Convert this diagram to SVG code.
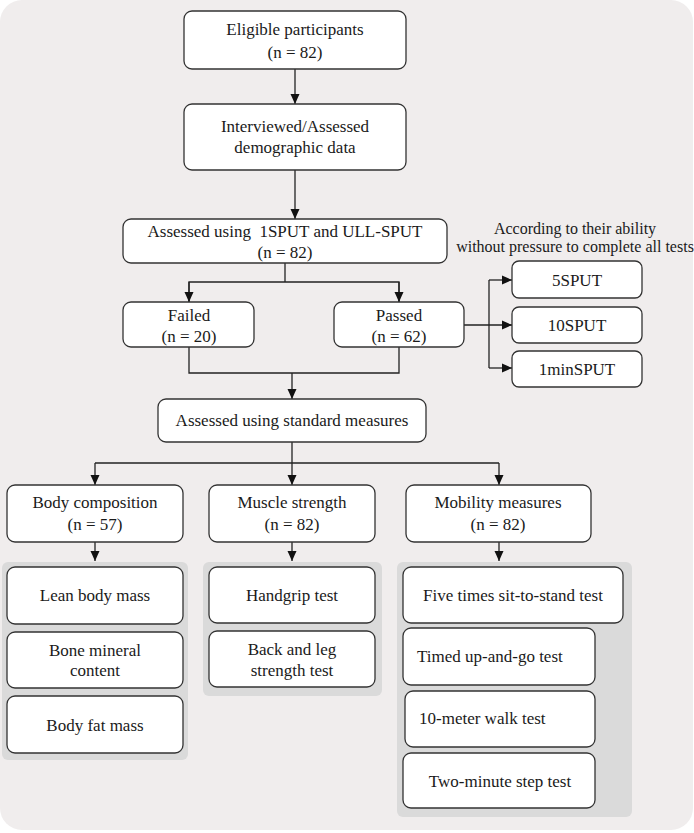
<svg xmlns="http://www.w3.org/2000/svg" width="694" height="833" viewBox="0 0 694 833">
<defs>
<style>
.bg{fill:#f0eded}
.panel{fill:#dadada}
.box{fill:#ffffff;stroke:#333333;stroke-width:1.3}
.t{font-family:"Liberation Serif","Times New Roman",serif;font-size:17px;fill:#1a1a1a;text-anchor:middle}
.ts{font-family:"Liberation Serif","Times New Roman",serif;font-size:16px;fill:#1a1a1a;text-anchor:middle}
.tl{text-anchor:start}
.c{fill:none;stroke:#222222;stroke-width:1.3}
</style>
<marker id="ah" markerUnits="userSpaceOnUse" markerWidth="10" markerHeight="10" viewBox="0 0 10 10" refX="10" refY="5" orient="auto">
<path d="M0,0.5 L10,5 L0,9.5 z" fill="#111111"/>
</marker>
</defs>
<rect class="bg" x="0" y="0" width="693" height="830" rx="22"/>
<g id="panels">
<rect class="panel" x="2" y="562" width="186" height="198" rx="6"/>
<rect class="panel" x="203" y="562" width="179" height="134" rx="6"/>
<rect class="panel" x="397" y="562" width="235" height="255" rx="6"/>
</g>
<g id="connectors">
<line class="c" x1="295" y1="69" x2="295" y2="104" marker-end="url(#ah)"/>
<line class="c" x1="295" y1="170" x2="295" y2="219" marker-end="url(#ah)"/>
<polyline class="c" points="285,263 285,282"/>
<polyline class="c" points="189,302 189,282 399,282 399,302"/>
<line class="c" x1="189" y1="282" x2="189" y2="302" marker-end="url(#ah)"/>
<line class="c" x1="399" y1="282" x2="399" y2="302" marker-end="url(#ah)"/>
<line class="c" x1="464" y1="325" x2="512" y2="325" marker-end="url(#ah)"/>
<polyline class="c" points="489,280 489,368"/>
<line class="c" x1="489" y1="280" x2="512" y2="280" marker-end="url(#ah)"/>
<line class="c" x1="489" y1="368" x2="512" y2="368" marker-end="url(#ah)"/>
<polyline class="c" points="189,347 189,373 399,373 399,347"/>
<line class="c" x1="292" y1="373" x2="292" y2="399" marker-end="url(#ah)"/>
<polyline class="c" points="292,442 292,463"/>
<polyline class="c" points="95,463 499,463"/>
<line class="c" x1="95" y1="463" x2="95" y2="485" marker-end="url(#ah)"/>
<line class="c" x1="292" y1="463" x2="292" y2="485" marker-end="url(#ah)"/>
<line class="c" x1="499" y1="463" x2="499" y2="485" marker-end="url(#ah)"/>
<line class="c" x1="95" y1="542" x2="95" y2="561" marker-end="url(#ah)"/>
<line class="c" x1="292" y1="542" x2="292" y2="561" marker-end="url(#ah)"/>
<line class="c" x1="499" y1="542" x2="499" y2="561" marker-end="url(#ah)"/>
</g>
<g id="eligible"><rect class="box" x="184" y="11" width="222" height="58" rx="8"/><text class="t" x="295" y="35">Eligible participants</text><text class="t" x="295" y="58">(n = 82)</text></g>
<g id="interview"><rect class="box" x="184" y="104" width="222" height="66" rx="8"/><text class="t" x="295" y="132">Interviewed/Assessed</text><text class="t" x="295" y="153">demographic data</text></g>
<g id="assessed1"><rect class="box" x="123" y="219" width="324" height="44" rx="8"/><text class="t" x="285" y="237">Assessed using &#160;1SPUT and ULL-SPUT</text><text class="t" x="285" y="258">(n = 82)</text></g>
<g id="note"><text class="ts" x="575" y="234">According to their ability</text><text class="ts" x="575" y="252">without pressure to complete all tests</text></g>
<g id="failed"><rect class="box" x="123" y="302" width="131" height="45" rx="8"/><text class="t" x="189" y="321">Failed</text><text class="t" x="189" y="342">(n = 20)</text></g>
<g id="passed"><rect class="box" x="334" y="302" width="130" height="45" rx="8"/><text class="t" x="399" y="321">Passed</text><text class="t" x="399" y="342">(n = 62)</text></g>
<g id="sput5"><rect class="box" x="512" y="261" width="130" height="37" rx="7"/><text class="t" x="577" y="286">5SPUT</text></g>
<g id="sput10"><rect class="box" x="512" y="307" width="130" height="36" rx="7"/><text class="t" x="577" y="331">10SPUT</text></g>
<g id="sput1min"><rect class="box" x="512" y="351" width="130" height="36" rx="7"/><text class="t" x="577" y="375">1minSPUT</text></g>
<g id="standard"><rect class="box" x="158" y="399" width="268" height="43" rx="8"/><text class="t" x="292" y="426">Assessed using standard measures</text></g>
<g id="bodycomp"><rect class="box" x="7" y="485" width="176" height="57" rx="8"/><text class="t" x="95" y="508">Body composition</text><text class="t" x="95" y="530">(n = 57)</text></g>
<g id="muscle"><rect class="box" x="209" y="485" width="166" height="57" rx="8"/><text class="t" x="292" y="508">Muscle strength</text><text class="t" x="292" y="530">(n = 82)</text></g>
<g id="mobility"><rect class="box" x="406" y="485" width="185" height="57" rx="8"/><text class="t" x="498" y="508">Mobility measures</text><text class="t" x="498" y="530">(n = 82)</text></g>
<g id="lean"><rect class="box" x="7" y="567" width="176" height="57" rx="8"/><text class="t" x="95" y="601">Lean body mass</text></g>
<g id="bone"><rect class="box" x="7" y="632" width="176" height="56" rx="8"/><text class="t" x="95" y="656">Bone mineral</text><text class="t" x="95" y="676">content</text></g>
<g id="fat"><rect class="box" x="7" y="696" width="176" height="57" rx="8"/><text class="t" x="95" y="731">Body fat mass</text></g>
<g id="handgrip"><rect class="box" x="209" y="567" width="166" height="56" rx="8"/><text class="t" x="292" y="601">Handgrip test</text></g>
<g id="backleg"><rect class="box" x="209" y="631" width="166" height="56" rx="8"/><text class="t" x="292" y="655">Back and leg</text><text class="t" x="292" y="676">strength test</text></g>
<g id="five"><rect class="box" x="403" y="567" width="220" height="56" rx="8"/><text class="t" x="513" y="601">Five times sit-to-stand test</text></g>
<g id="timed"><rect class="box" x="403" y="628" width="192" height="57" rx="8"/><text class="t tl" x="417" y="662">Timed up-and-go test</text></g>
<g id="walk10"><rect class="box" x="405" y="691" width="190" height="56" rx="8"/><text class="t tl" x="419" y="724">10-meter walk test</text></g>
<g id="step2"><rect class="box" x="403" y="753" width="192" height="55" rx="8"/><text class="t" x="500" y="787">Two-minute step test</text></g>
</svg>
